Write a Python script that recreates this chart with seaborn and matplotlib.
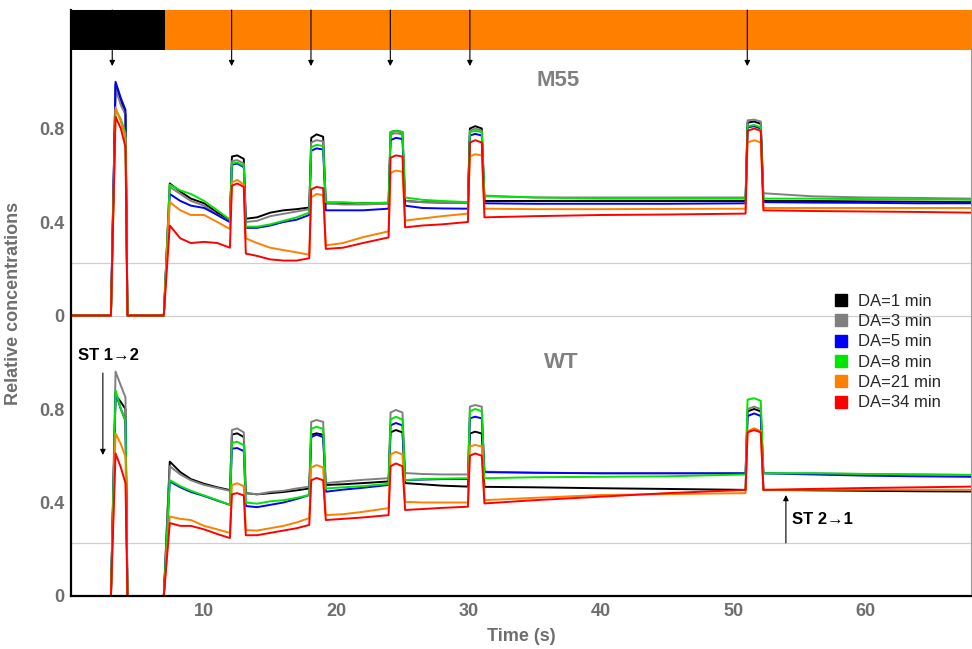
import numpy as np
import pandas as pd
import matplotlib
matplotlib.use('Agg')
import matplotlib.pyplot as plt
from matplotlib.lines import Line2D
from matplotlib.patches import Rectangle
import seaborn as sns

# ---------------- data ----------------
series_names = ['DA=1 min', 'DA=3 min', 'DA=5 min', 'DA=8 min', 'DA=21 min', 'DA=34 min']
series_colors = ['#000000', '#808080', '#0000ff', '#00e600', '#ff8000', '#ff0000']

time_s = [0, 2.95, 3.3, 3.7, 4.05, 4.2, 6.95, 7.4, 8.2, 9.0, 10.0, 11.0, 11.95,
          12.1, 12.5, 13.0, 13.15, 14.0, 15.0, 16.0, 17.0, 17.95,
          18.1, 18.5, 19.0, 19.2, 20.5, 22.0, 23.95,
          24.1, 24.5, 25.0, 25.2, 26.5, 28.0, 29.95,
          30.1, 30.5, 31.0, 31.2, 35, 40, 45, 50.95,
          51.1, 51.6, 52.1, 52.3, 56, 60, 64, 68.0]

m55_1 = [0, 0, 0.99, 0.92, 0.86, 0, 0,
         0.565, 0.53, 0.50, 0.48, 0.44, 0.41,
         0.68, 0.685, 0.67,
         0.414, 0.42, 0.44, 0.45, 0.455, 0.462,
         0.76, 0.775, 0.765,
         0.48, 0.48, 0.48, 0.482,
         0.785, 0.79, 0.785,
         0.49, 0.485, 0.483, 0.483,
         0.80, 0.81, 0.80,
         0.49, 0.49, 0.49, 0.49, 0.49,
         0.825, 0.83, 0.82,
         0.49, 0.49, 0.488, 0.487, 0.485]
m55_3 = [0, 0, 0.97, 0.90, 0.86, 0, 0,
         0.55, 0.52, 0.49, 0.47, 0.43, 0.40,
         0.66, 0.665, 0.65,
         0.40, 0.405, 0.425, 0.435, 0.445, 0.455,
         0.74, 0.75, 0.745,
         0.48, 0.475, 0.475, 0.478,
         0.775, 0.78, 0.775,
         0.49, 0.485, 0.483, 0.483,
         0.79, 0.80, 0.79,
         0.51, 0.505, 0.505, 0.505, 0.505,
         0.835, 0.838, 0.83,
         0.523, 0.51, 0.505, 0.503, 0.50]
m55_5 = [0, 0, 1.00, 0.93, 0.88, 0, 0,
         0.52, 0.49, 0.47, 0.46, 0.43, 0.40,
         0.645, 0.65, 0.635,
         0.375, 0.375, 0.385, 0.40, 0.41, 0.43,
         0.705, 0.715, 0.71,
         0.45, 0.45, 0.45, 0.457,
         0.75, 0.76, 0.755,
         0.47, 0.46, 0.458, 0.457,
         0.77, 0.777, 0.77,
         0.48, 0.478, 0.478, 0.478, 0.48,
         0.805, 0.81, 0.80,
         0.485, 0.483, 0.482, 0.48, 0.48]
m55_8 = [0, 0, 0.88, 0.84, 0.78, 0, 0,
         0.56, 0.535, 0.52, 0.49, 0.45, 0.41,
         0.65, 0.655, 0.64,
         0.38, 0.38, 0.39, 0.405, 0.42, 0.44,
         0.72, 0.73, 0.725,
         0.485, 0.485, 0.48, 0.483,
         0.785, 0.79, 0.785,
         0.505, 0.495, 0.49, 0.485,
         0.785, 0.79, 0.785,
         0.513, 0.505, 0.50, 0.50, 0.50,
         0.81, 0.815, 0.805,
         0.50, 0.50, 0.498, 0.497, 0.495]
m55_21 = [0, 0, 0.89, 0.83, 0.76, 0, 0,
          0.485, 0.45, 0.43, 0.43, 0.40, 0.37,
          0.57, 0.58, 0.56,
          0.33, 0.31, 0.29, 0.28, 0.27, 0.26,
          0.505, 0.52, 0.515,
          0.30, 0.31, 0.335, 0.36,
          0.61, 0.62, 0.615,
          0.406, 0.415, 0.425, 0.436,
          0.68, 0.69, 0.685,
          0.457, 0.455, 0.455, 0.456, 0.457,
          0.74, 0.75, 0.74,
          0.46, 0.46, 0.46, 0.46, 0.46]
m55_34 = [0, 0, 0.85, 0.80, 0.72, 0, 0,
          0.385, 0.33, 0.31, 0.315, 0.31, 0.29,
          0.555, 0.565, 0.55,
          0.265, 0.255, 0.24, 0.235, 0.235, 0.245,
          0.54, 0.55, 0.545,
          0.285, 0.29, 0.31, 0.334,
          0.675, 0.685, 0.68,
          0.377, 0.385, 0.39, 0.40,
          0.74, 0.75, 0.74,
          0.42, 0.425, 0.43, 0.432, 0.436,
          0.79, 0.80, 0.79,
          0.45, 0.447, 0.445, 0.443, 0.44]

wt_1 = [0, 0, 0.86, 0.83, 0.80, 0, 0,
        0.575, 0.53, 0.50, 0.48, 0.465, 0.453,
        0.69, 0.696, 0.68,
        0.44, 0.435, 0.44, 0.445, 0.452, 0.46,
        0.69, 0.696, 0.69,
        0.475, 0.478, 0.483, 0.49,
        0.70, 0.71, 0.70,
        0.483, 0.478, 0.472, 0.468,
        0.695, 0.703, 0.695,
        0.467, 0.465, 0.461, 0.458, 0.454,
        0.79, 0.80, 0.79,
        0.454, 0.452, 0.45, 0.448, 0.447]
wt_3 = [0, 0, 0.96, 0.90, 0.85, 0, 0,
        0.555, 0.52, 0.495, 0.475, 0.462, 0.45,
        0.71, 0.717, 0.70,
        0.44, 0.435, 0.445, 0.45, 0.46, 0.468,
        0.745, 0.753, 0.745,
        0.483, 0.49, 0.497, 0.504,
        0.785, 0.796, 0.785,
        0.526, 0.522, 0.52, 0.52,
        0.81, 0.817, 0.81,
        0.532, 0.528, 0.525, 0.525, 0.525,
        0.80, 0.81, 0.80,
        0.525, 0.525, 0.522, 0.52, 0.518]
wt_5 = [0, 0, 0.87, 0.80, 0.75, 0, 0,
        0.49, 0.465, 0.445, 0.428, 0.408, 0.39,
        0.63, 0.633, 0.62,
        0.385, 0.38, 0.39, 0.40, 0.415, 0.432,
        0.68, 0.69, 0.68,
        0.446, 0.455, 0.463, 0.475,
        0.73, 0.74, 0.73,
        0.496, 0.498, 0.50, 0.50,
        0.76, 0.767, 0.76,
        0.53, 0.527, 0.525, 0.525, 0.525,
        0.77, 0.781, 0.77,
        0.525, 0.52, 0.515, 0.512, 0.51]
wt_8 = [0, 0, 0.88, 0.80, 0.75, 0, 0,
        0.496, 0.47, 0.45, 0.43, 0.41, 0.39,
        0.655, 0.66, 0.645,
        0.40, 0.395, 0.405, 0.41, 0.42, 0.432,
        0.715, 0.724, 0.715,
        0.46, 0.465, 0.47, 0.48,
        0.755, 0.767, 0.755,
        0.496, 0.50, 0.502, 0.504,
        0.79, 0.80, 0.79,
        0.504, 0.508, 0.51, 0.512, 0.52,
        0.84, 0.846, 0.835,
        0.525, 0.525, 0.522, 0.52, 0.518]
wt_21 = [0, 0, 0.696, 0.65, 0.596, 0, 0,
         0.34, 0.33, 0.325, 0.30, 0.285, 0.27,
         0.475, 0.482, 0.47,
         0.282, 0.28, 0.29, 0.30, 0.315, 0.333,
         0.55, 0.56, 0.55,
         0.346, 0.35, 0.36, 0.376,
         0.605, 0.617, 0.605,
         0.403, 0.40, 0.40, 0.40,
         0.64, 0.646, 0.64,
         0.41, 0.42, 0.432, 0.436, 0.44,
         0.705, 0.718, 0.705,
         0.454, 0.455, 0.455, 0.455, 0.454]
wt_34 = [0, 0, 0.61, 0.55, 0.483, 0, 0,
         0.312, 0.30, 0.30, 0.285, 0.265, 0.248,
         0.435, 0.44, 0.43,
         0.26, 0.26, 0.27, 0.28, 0.29, 0.304,
         0.495, 0.505, 0.495,
         0.325, 0.33, 0.336, 0.346,
         0.555, 0.567, 0.555,
         0.368, 0.372, 0.377, 0.382,
         0.60, 0.61, 0.60,
         0.396, 0.41, 0.425, 0.44, 0.454,
         0.70, 0.71, 0.70,
         0.454, 0.458, 0.462, 0.465, 0.468]

m55_series = [m55_1, m55_3, m55_5, m55_8, m55_21, m55_34]
wt_series = [wt_1, wt_3, wt_5, wt_8, wt_21, wt_34]

stim_times = [3.05, 12.08, 18.08, 24.08, 30.1, 51.08]   # arrow markers
light_phase_end = 7.05                                   # black -> orange band
ytick_labels = ['0', '0.4', '0.8', '0', '0.4', '0.8']
xticks = [10, 20, 30, 40, 50, 60]

# ---------------- layout constants ----------------
M55_OFFSET = 1.2     # vertical stacking offset of the upper (M55) panel
REF_LEVEL = 0.225    # light gray reference line in each panel
YMAX = 2.507
BAND_BOTTOM = 2.336
XMIN, XMAX = -0.07, 68.0

rows = []
for name, vals in zip(series_names, m55_series):
    for t, v in zip(time_s, vals):
        rows.append(('M55', name, t, v + M55_OFFSET))
for name, vals in zip(series_names, wt_series):
    for t, v in zip(time_s, vals):
        rows.append(('WT', name, t, v))
df = pd.DataFrame(rows, columns=['panel', 'series', 'time', 'value'])

# ---------------- style ----------------
sns.set_style('white')
plt.rcParams['font.family'] = ['Liberation Sans', 'DejaVu Sans']
GRAY_TXT = '#6e6e6e'

fig = plt.figure(figsize=(9.72, 6.49), dpi=100)
ax = fig.add_axes([71 / 972, 1 - 596 / 649, 900 / 972, 586 / 649])

# reference lines
for yv in [REF_LEVEL, M55_OFFSET, M55_OFFSET + REF_LEVEL]:
    ax.axhline(yv, color='#cfcfcf', lw=0.9, zorder=0.5)

sns.lineplot(data=df, x='time', y='value', hue='series', units='panel',
             estimator=None, hue_order=series_names,
             palette=dict(zip(series_names, series_colors)),
             linewidth=1.4, legend=False, ax=ax, sort=False)

# top band
ax.add_patch(Rectangle((XMIN, BAND_BOTTOM), light_phase_end - XMIN, YMAX - BAND_BOTTOM,
                       facecolor='black', edgecolor='none', zorder=3))
ax.add_patch(Rectangle((light_phase_end, BAND_BOTTOM), XMAX - light_phase_end, YMAX - BAND_BOTTOM,
                       facecolor='#ff8000', edgecolor='none', zorder=3))

# stimulus arrows
for st in stim_times:
    ax.annotate('', xy=(st, 2.267), xytext=(st, YMAX),
                arrowprops=dict(arrowstyle='-|>', color='black', lw=0.8,
                                mutation_scale=8, shrinkA=0, shrinkB=0),
                zorder=4)

ax.set_xlim(XMIN, XMAX)
ax.set_ylim(0, YMAX)
ax.set_yticks([0, 0.4, 0.8, M55_OFFSET, M55_OFFSET + 0.4, M55_OFFSET + 0.8])
ax.set_yticklabels(ytick_labels)
ax.set_xticks(xticks)
ax.set_xticklabels([str(x) for x in xticks])
ax.tick_params(axis='both', length=2, width=1.5, color='#808080', direction='inout',
               labelsize=13, labelcolor=GRAY_TXT, pad=4)
for lab in ax.get_xticklabels() + ax.get_yticklabels():
    lab.set_fontweight('bold')

ax.set_xlabel('Time (s)', fontsize=13, fontweight='bold', color=GRAY_TXT)
ax.set_ylabel('Relative concentrations', fontsize=13, fontweight='bold', color=GRAY_TXT)
ax.xaxis.set_label_coords(0.5, -0.055)
ax.yaxis.set_label_coords(-0.054, 0.5)

for side in ['left', 'bottom']:
    ax.spines[side].set_color('black')
    ax.spines[side].set_linewidth(1.6)
for side in ['top', 'right']:
    ax.spines[side].set_color('#9a9a9a')
    ax.spines[side].set_linewidth(0.8)

# panel titles
ax.text(36.8, 2.207, 'M55', fontsize=16, fontweight='bold', color='#808080',
        ha='center', va='center')
ax.text(37.0, 1.0, 'WT', fontsize=16, fontweight='bold', color='#808080',
        ha='center', va='center')

# state transition annotations
ax.text(0.45, 1.031, 'ST 1\u21922', fontsize=12, fontweight='bold', color='black',
        ha='left', va='center')
ax.annotate('', xy=(2.34, 0.603), xytext=(2.34, 0.954),
            arrowprops=dict(arrowstyle='-|>', color='black', lw=0.8,
                            mutation_scale=8, shrinkA=0, shrinkB=0))
ax.text(54.46, 0.329, 'ST 2\u21921', fontsize=12, fontweight='bold', color='black',
        ha='left', va='center')
ax.annotate('', xy=(54.0, 0.432), xytext=(54.0, 0.227),
            arrowprops=dict(arrowstyle='-|>', color='black', lw=0.8,
                            mutation_scale=8, shrinkA=0, shrinkB=0))

# legend
handles = [Line2D([0], [0], marker='s', linestyle='none', markersize=8.5,
                  markerfacecolor=c, markeredgecolor=c) for c in series_colors]
leg = fig.legend(handles, series_names, loc='upper left',
                 bbox_to_anchor=(826 / 972, 1 - 287 / 649), frameon=False,
                 fontsize=12, labelspacing=0.32, handletextpad=0.5,
                 handlelength=1.0, borderaxespad=0)

fig.savefig('out.png', dpi=100)
